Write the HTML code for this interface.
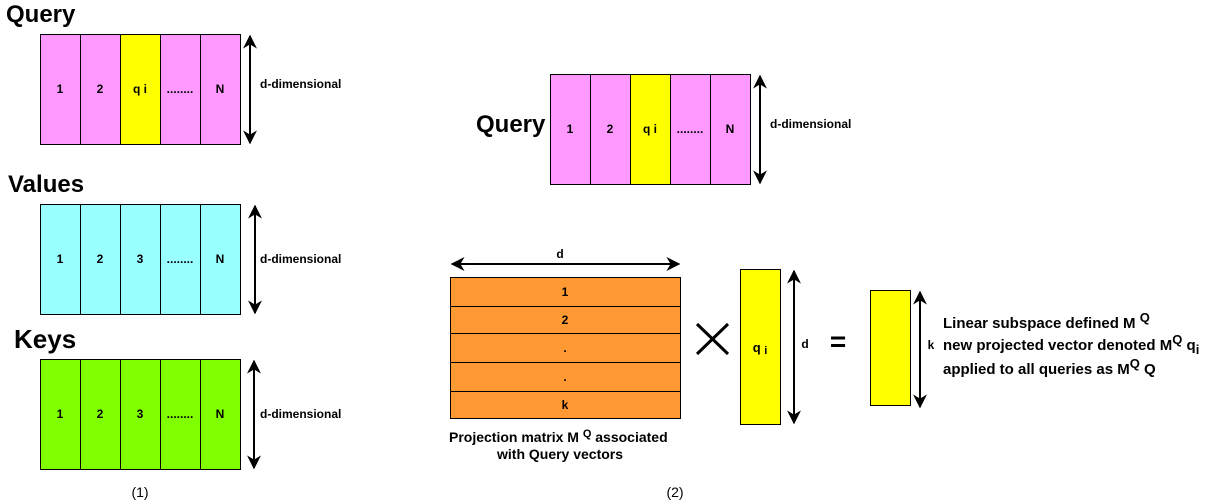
<!DOCTYPE html>
<html><head><style>body{margin:0;background:#fff}svg{display:block}</style></head><body>
<svg width="1212" height="502" xmlns="http://www.w3.org/2000/svg" font-family="Liberation Sans, sans-serif">
<defs><marker id="a" viewBox="0 0 10 10" refX="9" refY="5" markerWidth="7" markerHeight="7" orient="auto-start-reverse"><path d="M0,0 L10,5 L0,10 L3,5z" fill="#000"/></marker></defs>
<g font-weight="bold" font-size="24">
<text x="6" y="22">Query</text><text x="8" y="192">Values</text><text x="14" y="348" font-size="26">Keys</text><text x="476" y="132">Query</text>
</g>
<g stroke="#000" stroke-width="1" font-size="12" font-weight="bold" text-anchor="middle">
<rect x="40.5" y="34.5" width="40" height="110" fill="#ff99ff"/><rect x="80.5" y="34.5" width="40" height="110" fill="#ff99ff"/><rect x="120.5" y="34.5" width="40" height="110" fill="#ffff00"/><rect x="160.5" y="34.5" width="40" height="110" fill="#ff99ff"/><rect x="200.5" y="34.5" width="40" height="110" fill="#ff99ff"/>
<rect x="40.5" y="204.5" width="40" height="110" fill="#99ffff"/><rect x="80.5" y="204.5" width="40" height="110" fill="#99ffff"/><rect x="120.5" y="204.5" width="40" height="110" fill="#99ffff"/><rect x="160.5" y="204.5" width="40" height="110" fill="#99ffff"/><rect x="200.5" y="204.5" width="40" height="110" fill="#99ffff"/>
<rect x="40.5" y="359.5" width="40" height="110" fill="#80ff00"/><rect x="80.5" y="359.5" width="40" height="110" fill="#80ff00"/><rect x="120.5" y="359.5" width="40" height="110" fill="#80ff00"/><rect x="160.5" y="359.5" width="40" height="110" fill="#80ff00"/><rect x="200.5" y="359.5" width="40" height="110" fill="#80ff00"/>
<rect x="550.5" y="74.5" width="40" height="110" fill="#ff99ff"/><rect x="590.5" y="74.5" width="40" height="110" fill="#ff99ff"/><rect x="630.5" y="74.5" width="40" height="110" fill="#ffff00"/><rect x="670.5" y="74.5" width="40" height="110" fill="#ff99ff"/><rect x="710.5" y="74.5" width="40" height="110" fill="#ff99ff"/>
<rect x="450.5" y="277.5" width="230" height="29" fill="#ff9933"/><rect x="450.5" y="306.5" width="230" height="27" fill="#ff9933"/><rect x="450.5" y="333.5" width="230" height="29" fill="#ff9933"/><rect x="450.5" y="362.5" width="230" height="29" fill="#ff9933"/><rect x="450.5" y="391.5" width="230" height="27" fill="#ff9933"/>
<rect x="740.5" y="269.5" width="40" height="155" fill="#ffff00"/>
<rect x="870.5" y="290.5" width="40" height="115" fill="#ffff00"/>
<line x1="250" y1="36" x2="250" y2="143" stroke-width="2" marker-start="url(#a)" marker-end="url(#a)"/>
<line x1="255" y1="206" x2="255" y2="313" stroke-width="2" marker-start="url(#a)" marker-end="url(#a)"/>
<line x1="254" y1="361" x2="254" y2="468" stroke-width="2" marker-start="url(#a)" marker-end="url(#a)"/>
<line x1="760" y1="76" x2="760" y2="183" stroke-width="2" marker-start="url(#a)" marker-end="url(#a)"/>
<line x1="452" y1="264" x2="679" y2="264" stroke-width="2" marker-start="url(#a)" marker-end="url(#a)"/>
<line x1="794" y1="271" x2="794" y2="423" stroke-width="2" marker-start="url(#a)" marker-end="url(#a)"/>
<line x1="920" y1="292" x2="920" y2="407" stroke-width="2" marker-start="url(#a)" marker-end="url(#a)"/>
<line x1="697" y1="324" x2="728" y2="354" stroke-width="3"/><line x1="728" y1="324" x2="697" y2="354" stroke-width="3"/>
</g>
<g font-size="12" font-weight="bold" text-anchor="middle">
<text x="60" y="93">1</text><text x="100" y="93">2</text><text x="140" y="93">q i</text><text x="180" y="93">........</text><text x="220" y="93">N</text>
<text x="60" y="263">1</text><text x="100" y="263">2</text><text x="140" y="263">3</text><text x="180" y="263">........</text><text x="220" y="263">N</text>
<text x="60" y="418">1</text><text x="100" y="418">2</text><text x="140" y="418">3</text><text x="180" y="418">........</text><text x="220" y="418">N</text>
<text x="570" y="133">1</text><text x="610" y="133">2</text><text x="650" y="133">q i</text><text x="690" y="133">........</text><text x="730" y="133">N</text>
<text x="565" y="296">1</text><text x="565" y="324">2</text><text x="565" y="352">.</text><text x="565" y="381">.</text><text x="565" y="409">k</text>
<text x="560" y="258">d</text><text x="805" y="348">d</text><text x="931" y="349">k</text>
<text x="760" y="352" font-size="13">q <tspan font-size="11" dy="2">i</tspan></text>
<text x="838" y="351" font-size="28">=</text>
</g>
<g font-size="12" font-weight="bold">
<text x="260" y="88">d-dimensional</text><text x="260" y="263">d-dimensional</text><text x="260" y="418">d-dimensional</text><text x="770" y="128">d-dimensional</text>
</g>
<g font-size="14" font-weight="bold">
<text x="449" y="442">Projection matrix M <tspan dy="-5" font-size="11">Q</tspan><tspan dy="5"> associated</tspan></text>
<text x="497" y="459">with Query vectors</text>
</g>
<g font-size="15" font-weight="bold">
<text x="943" y="328">Linear subspace defined M <tspan dy="-6" font-size="13">Q</tspan></text>
<text x="943" y="350">new projected vector denoted M<tspan dy="-6" font-size="13">Q</tspan><tspan dy="6"> q</tspan><tspan dy="4" font-size="13">i</tspan></text>
<text x="943" y="374">applied to all queries as M<tspan dy="-6" font-size="13">Q</tspan><tspan dy="6"> Q</tspan></text>
</g>
<g font-size="14" text-anchor="middle"><text x="140" y="497">(1)</text><text x="675" y="497">(2)</text></g>
</svg>
</body></html>
